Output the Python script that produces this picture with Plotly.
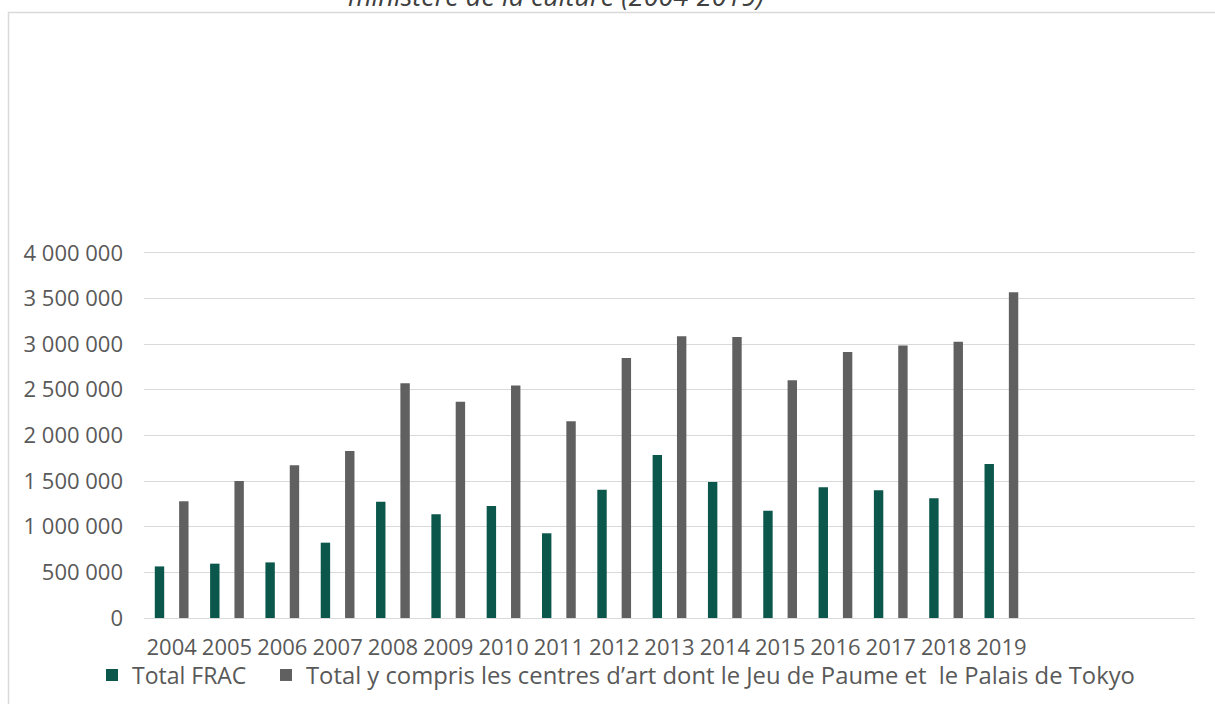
import plotly.graph_objects as go

# Budget series (euros), 2004-2019
years = list(range(2004, 2020))
total_frac = [565000, 595000, 609000, 825000, 1274000, 1136000, 1227000, 928000,
              1406000, 1786000, 1490000, 1176000, 1432000, 1399000, 1312000, 1688000]
total_centres = [1278000, 1501000, 1673000, 1830000, 2571000, 2370000, 2546000, 2155000,
                 2849000, 3087000, 3079000, 2605000, 2915000, 2984000, 3025000, 3569000]
series_names = ["Total FRAC",
                "Total y compris les centres d\u2019art dont le Jeu de Paume et\u00a0 le Palais de Tokyo"]
title_line = "minist\u00e8re de la culture (2004-2019)"

FONT = "Open Sans"
TEXT = "#595959"
GRID = "#d9d9d9"

W, H = 1215, 704
Y_MAX = 4020000
L, R, T, B = 144, 20, 251, 86
pw, ph = W - L - R, H - T - B

def px_x(p):
    return (p - L) / pw

def px_y(p):
    return (H - B - p) / ph

bw = 0.17
fig = go.Figure()
fig.add_trace(go.Bar(x=years, y=total_frac, name=series_names[0],
                     marker=dict(color="#0c574b", line=dict(width=0)),
                     width=bw, offset=-0.22 - bw / 2, legend="legend"))
fig.add_trace(go.Bar(x=years, y=total_centres, name=series_names[1],
                     marker=dict(color="#606060", line=dict(width=0)),
                     width=bw, offset=0.22 - bw / 2, legend="legend2"))

legend_style = dict(orientation="h", xanchor="left", yanchor="middle",
                    itemwidth=30, bgcolor="rgba(0,0,0,0)")

fig.update_layout(
    width=W, height=H,
    margin=dict(l=L, r=R, t=T, b=B, pad=0, autoexpand=False),
    barmode="overlay",
    separators=". ",
    plot_bgcolor="white", paper_bgcolor="white",
    font=dict(family=FONT, size=22, color=TEXT),
    showlegend=True,
    legend=dict(x=px_x(92), y=px_y(675),
                font=dict(family=FONT, size=23, color=TEXT), **legend_style),
    legend2=dict(x=px_x(266), y=px_y(675),
                 font=dict(family=FONT, size=23.8, color=TEXT), **legend_style),
    xaxis=dict(range=[2003.5, 2022.5], tickmode="array", tickvals=years,
               ticktext=[str(y) for y in years], showgrid=False,
               zeroline=False, showline=False, ticks="",
               ticklabelstandoff=14, tickangle=0,
               tickfont=dict(family=FONT, size=22, color=TEXT)),
    yaxis=dict(range=[0, Y_MAX], tickmode="linear", tick0=0, dtick=500000,
               tickformat=",d",
               showgrid=True, gridcolor=GRID, gridwidth=1,
               zeroline=True, zerolinecolor=GRID, zerolinewidth=1,
               showline=False, ticks="", ticklabelstandoff=20,
               tickfont=dict(family=FONT, size=22, color=TEXT)),
    shapes=[dict(type="rect", xref="paper", yref="paper",
                 x0=px_x(8.5), x1=px_x(1230), y0=px_y(720), y1=px_y(12.5),
                 line=dict(color=GRID, width=1.5), fillcolor="rgba(0,0,0,0)",
                 layer="below")],
    annotations=[dict(text="<i>" + title_line + "</i>", xref="paper", yref="paper",
                      x=px_x(556), y=px_y(-4.5), xanchor="center", yanchor="middle",
                      showarrow=False,
                      font=dict(family=FONT, size=27, color="#404040"))],
)

fig.write_html("out.html")
